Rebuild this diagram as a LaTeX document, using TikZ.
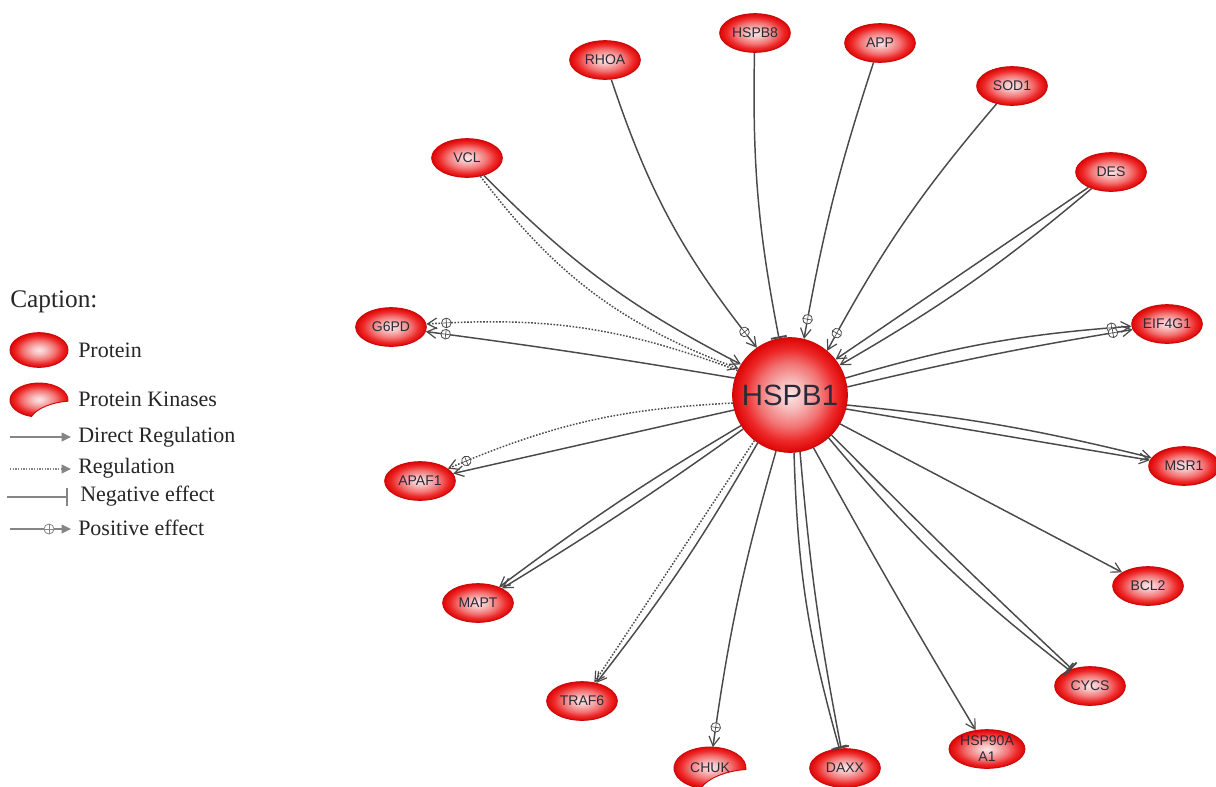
\documentclass[tikz,border=0pt]{standalone}
\usepackage{fontspec}
\setmainfont{Liberation Serif}
\newfontfamily\arialfont{Liberation Sans}
\usetikzlibrary{arrows.meta,shapes.geometric,decorations.markings}
\definecolor{edgegray}{HTML}{4A4A4A}
\definecolor{leggray}{HTML}{858585}
\definecolor{labeltext}{HTML}{2A2A38}
\definecolor{noderim}{HTML}{C80A0A}
\pgfdeclareradialshading{nodeball}{\pgfpoint{0bp}{0bp}}{%
  rgb(0bp)=(0.99,0.90,0.90);
  rgb(6bp)=(0.97,0.74,0.74);
  rgb(14bp)=(0.95,0.45,0.45);
  rgb(20bp)=(0.93,0.16,0.16);
  rgb(25bp)=(0.87,0.02,0.02);
  rgb(50bp)=(0.87,0.02,0.02)}
\tikzset{
  prot/.style={ellipse, minimum width=53pt, minimum height=29pt, inner sep=0pt,
    shade, shading=nodeball, draw=noderim, line width=0.7pt,
    font=\arialfont\fontsize{10.5}{12}\selectfont, text=labeltext},
  kinlabel/.style={ellipse, minimum width=53pt, minimum height=31pt, inner sep=0pt,
    font=\arialfont\fontsize{10.5}{12}\selectfont, text=labeltext},
  kinshape/.style={shade, shading=nodeball, draw=noderim, line width=0.7pt},
  hub/.style={circle, minimum size=86pt, inner sep=0pt, shade, shading=nodeball,
    draw=noderim, line width=0.7pt, font=\arialfont\fontsize{22}{24}\selectfont, text=labeltext},
  link/.style={draw=edgegray, line width=1.1pt},
  dlink/.style={link, dash pattern=on 1.2pt off 1.2pt},
  dirtip/.style={-{Straight Barb[length=7pt,width=8pt,line width=0.9pt]}},
  negtip/.style={-{Bar[width=12pt,line width=1.4pt]}},
  posfx/.style={postaction={decorate}, decoration={markings,
    mark=at position -15pt with {\draw[-, solid, edgegray, fill=white, line width=0.6pt] (0,0) circle (3.6pt);
      \draw[-, solid, edgegray, line width=0.5pt] (-3.6pt,0) -- (3.6pt,0) (0,-3.6pt) -- (0,3.6pt);}}},
  legtext/.style={anchor=base west, inner sep=0pt, font=\fontsize{16.5}{20}\selectfont, text=black!85},
  leglink/.style={draw=leggray, line width=1.1pt},
  legtip/.style={-{Triangle[length=7pt,width=6.5pt]}},
}
\begin{document}
\begin{tikzpicture}[x=0.75pt,y=0.75pt]
\useasboundingbox (0,0) rectangle (1216,-786);
\fill[white] (0,0) rectangle (1216,-786);

% ---------- legend ----------
\node[legtext, font=\fontsize{19}{22}\selectfont] (cap) at (10,-307) {Caption:};
\node[prot, minimum width=43.5pt, minimum height=26pt] (legprot) at (39,-350) {};
\node[legtext] (tprot) at (78,-357) {Protein};
\shade[kinshape] (67.9,-401.2) arc[start angle=-4, end angle=255, x radius=29, y radius=17]
  .. controls (37.5,-407.7) and (53.5,-402) .. (67.9,-401.2) -- cycle;
\node[legtext] (tkin) at (78,-406) {Protein Kinases};
\node[legtext] (tdir) at (78,-442) {Direct Regulation};
\node[legtext] (treg) at (78,-473) {Regulation};
\node[legtext] (tneg) at (80,-501) {Negative effect};
\node[legtext] (tpos) at (78,-535) {Positive effect};
\coordinate (d0) at (10,-437); \coordinate (d1) at (71,-437);
\coordinate (r0) at (10,-469); \coordinate (r1) at (71,-469);
\coordinate (n0) at (7,-497); \coordinate (n1) at (68,-497);
\coordinate (p0) at (10,-529); \coordinate (p1) at (71,-529);
\draw[leglink, legtip] (d0) -- (d1);
\draw[leglink, legtip, dash pattern=on 1pt off 1pt] (r0) -- (r1);
\draw[leglink, -{Bar[width=13pt,line width=1.3pt]}] (n0) -- (n1);
\draw[leglink, legtip] (p0) -- (p1);
\node[circle, draw=leggray, fill=white, line width=0.6pt, minimum size=7.5pt, inner sep=0pt] (pc) at (49,-529) {};
\draw[leggray, line width=0.5pt] (pc.west) -- (pc.east) (pc.north) -- (pc.south);

% ---------- nodes ----------
\node[hub] (hspb1) at (790,-395) {HSPB1};
\node[prot] (rhoa) at (605,-60) {RHOA};
\node[prot] (hspb8) at (755,-33) {HSPB8};
\node[prot] (app) at (880,-43) {APP};
\node[prot] (sod1) at (1012,-86) {SOD1};
\node[prot] (des) at (1111,-172) {DES};
\node[prot] (vcl) at (467,-158) {VCL};
\node[prot] (g6pd) at (391,-327) {G6PD};
\node[prot] (eif) at (1167,-324) {EIF4G1};
\node[prot] (msr1) at (1184,-466) {MSR1};
\node[prot] (apaf1) at (420,-481) {APAF1};
\node[prot] (bcl2) at (1148,-586) {BCL2};
\node[prot] (mapt) at (478,-603) {MAPT};
\node[prot] (cycs) at (1090,-686) {CYCS};
\node[prot] (traf6) at (582,-701) {TRAF6};
\node[prot] (daxx) at (845,-768) {DAXX};
\node[prot, align=center, font=\arialfont\fontsize{10.5}{12}\selectfont] (hsp90) at (987,-749) {HSP90A\\A1};
\shade[kinshape] (745.9,-769.5) arc[start angle=-4, end angle=255, x radius=36, y radius=21]
  .. controls (708.2,-777.5) and (728,-770.5) .. (745.9,-769.5) -- cycle;
\node[kinlabel] (chuk) at (710,-768) {CHUK};

% ---------- incoming edges ----------
\draw[link, dirtip, posfx] (rhoa) to[bend right=10] (hspb1.125);
\draw[link, negtip] (hspb8) to[bend right=6] (hspb1.101);
\draw[link, dirtip, posfx] (app) to[bend right=4] (hspb1.76);
\draw[link, dirtip, posfx] (sod1) to[bend right=6] (hspb1.50);
\draw[link, dirtip] (des) to (hspb1.38);
\draw[link, dirtip] (des) to[bend left=5] (hspb1.31);
\draw[link, dirtip] (vcl) to[bend right=9] (hspb1.148);
\draw[dlink, dirtip] (vcl) to[bend right=16] (hspb1.153);

% ---------- outgoing edges ----------
\draw[dlink, dirtip, posfx] (hspb1.155) to[bend right=12] (g6pd);
\draw[link, dirtip, posfx] (hspb1.163) to[bend right=1] (g6pd);
\draw[link, dirtip, posfx] (hspb1.17) to[bend left=6] (eif);
\draw[link, dirtip, posfx] (hspb1.8) to[bend left=2] (eif);
\draw[link, dirtip] (hspb1.350) to[bend left=4] (msr1);
\draw[link, dirtip] (hspb1.346) to (msr1);
\draw[link, dirtip] (hspb1.330) to (bcl2);
\draw[link, negtip] (hspb1.312) to[bend right=6] (cycs);
\draw[link, negtip] (hspb1.316) to[bend right=1] (cycs);
\draw[link, dirtip] (hspb1.294) to[bend right=1] (hsp90);
\draw[link, negtip] (hspb1.274) to[bend right=7] (daxx);
\draw[link, negtip] (hspb1.280) to[bend right=3] (daxx);
\draw[link, dirtip, posfx] (hspb1.256) to[bend right=4] (chuk);
\draw[dlink, dirtip] (hspb1.232) to (traf6);
\draw[link, dirtip] (hspb1.236) to[bend left=4] (traf6);
\draw[link, dirtip] (hspb1.212) to[bend right=3] (mapt);
\draw[link, dirtip] (hspb1.216) to[bend left=2] (mapt);
\draw[dlink, dirtip, posfx] (hspb1.188) to[bend right=10] (apaf1);
\draw[link, dirtip] (hspb1.195) to (apaf1);
\end{tikzpicture}
\end{document}
